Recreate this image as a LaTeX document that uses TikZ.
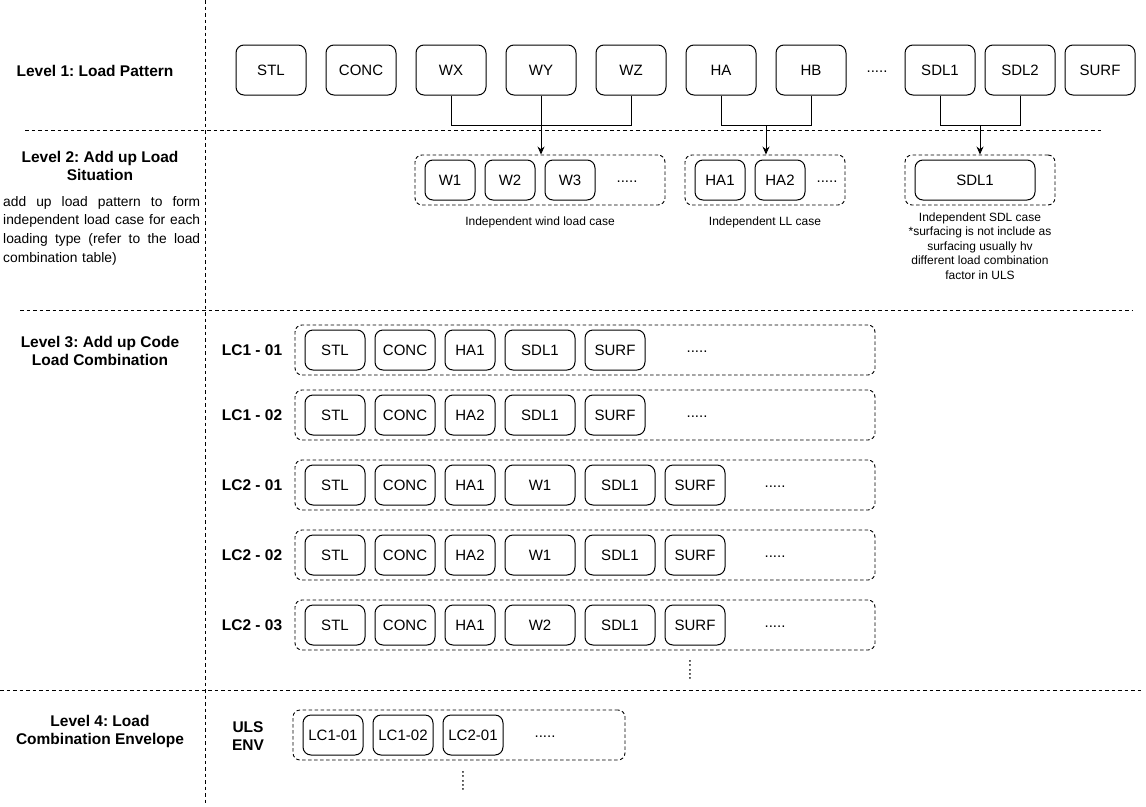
\documentclass[tikz,border=0pt]{standalone}
\usepackage{fontspec}
\setmainfont{Liberation Sans}
\usetikzlibrary{arrows.meta}
\frenchspacing
\newcommand{\jsp}{\ \hfill}
\tikzset{
  sep/.style={draw=black, line width=0.9pt, dash pattern=on 3.5pt off 3pt},
  grp/.style={draw=black, line width=0.9pt, dash pattern=on 3.5pt off 2.5pt, rounded corners=7pt, inner sep=0pt},
  lbox/.style={draw=black, line width=1pt, rounded corners=8pt, inner sep=0pt, font=\fontsize{15}{18}\selectfont},
  big/.style={lbox, minimum width=70pt, minimum height=50pt},
  sm/.style={lbox, minimum height=40pt},
  head/.style={font=\bfseries\fontsize{15.5}{18}\selectfont, align=center, inner sep=0pt},
  txt/.style={font=\fontsize{15}{18}\selectfont, inner sep=0pt},
  note/.style={font=\fontsize{12}{14.4}\selectfont, align=center, inner sep=0pt},
  conn/.style={draw=black, line width=1pt},
  arr/.style={conn, -{Stealth[length=8pt,width=7pt]}},
}
\begin{document}
\begin{tikzpicture}[x=1pt,y=-1pt]
\useasboundingbox (0,0) rectangle (1146,806);
% separators
\draw[sep] (205,0) -- (205,806);
\draw[sep] (25,130) -- (1103,130);
\draw[sep] (20,310) -- (1133,310);
\draw[sep] (0,690) -- (1143,690);

% left headings
\node[head] (h1) at (95,71) {Level 1: Load Pattern};
\node[head] (h2) at (100,166) {Level 2: Add up Load\\Situation};
\node[txt, font=\fontsize{13.8}{18.6}\selectfont, anchor=north west, text width=197pt, align=left] (p2) at (3,196)
  {\makebox[197pt][l]{add\jsp up\jsp load\jsp pattern\jsp to\jsp form}\\
   \makebox[197pt][l]{independent\jsp load\jsp case\jsp for\jsp each}\\
   \makebox[197pt][l]{loading\jsp type\jsp (refer\jsp to\jsp the\jsp load}\\
   combination table)};
\node[head] (h3) at (100,351) {Level 3: Add up Code\\Load Combination};
\node[head] (h4) at (100,731) {Level 4: Load\\Combination Envelope};

% level 1
\node[big] (STL) at (271,70) {STL};
\node[big] (CONC) at (361,70) {CONC};
\node[big] (WX) at (451,70) {WX};
\node[big] (WY) at (541,70) {WY};
\node[big] (WZ) at (631,70) {WZ};
\node[big] (HA) at (721,70) {HA};
\node[big] (HB) at (811,70) {HB};
\node[txt] (d1) at (877,72) {.....};
\node[big] (SDLa) at (940,70) {SDL1};
\node[big] (SDLb) at (1020,70) {SDL2};
\node[big] (SURF) at (1100,70) {SURF};

% level 2 groups
\node[grp, minimum width=250pt, minimum height=50pt] (gW) at (540,180) {};
\node[sm, minimum width=50pt] (W1) at (450,180) {W1};
\node[sm, minimum width=50pt] (W2) at (510,180) {W2};
\node[sm, minimum width=50pt] (W3) at (570,180) {W3};
\node[txt] (d2) at (627,182) {.....};
\node[note] (nW) at (540,222) {Independent wind load case};

\node[grp, minimum width=160pt, minimum height=50pt] (gH) at (765,180) {};
\node[sm, minimum width=50pt] (HA1) at (720,180) {HA1};
\node[sm, minimum width=50pt] (HA2) at (780,180) {HA2};
\node[txt] (d3) at (827,182) {.....};
\node[note] (nH) at (765,222) {Independent LL case};

\node[grp, minimum width=150pt, minimum height=50pt] (gS) at (980,180) {};
\node[sm, minimum width=120pt] (S1) at (975,180) {SDL1};
\node[note] (nS) at (980,246) {Independent SDL case\\*surfacing is not include as\\surfacing usually hv\\different load combination\\factor in ULS};

% connectors
\coordinate (jW) at (541,125);
\coordinate (jH) at (766,125);
\coordinate (jS) at (980,125);
\draw[conn] (WX.south) |- (jW);
\draw[conn] (WZ.south) |- (jW);
\draw[arr] (WY.south) -- (WY.south |- gW.north);
\draw[conn] (HA.south) |- (jH);
\draw[conn] (HB.south) |- (jH);
\draw[arr] (jH) -- (jH |- gH.north);
\draw[conn] (SDLa.south) |- (jS);
\draw[conn] (SDLb.south) |- (jS);
\draw[arr] (jS) -- (jS |- gS.north);

% level 3
\foreach \r/\y/\lab/\ha/\w in {a/350/LC1 - 01/HA1/, b/415/LC1 - 02/HA2/}{
  \node[head] (L\r) at (252,\y) {\lab};
  \node[grp, minimum width=580pt, minimum height=50pt] (G\r) at (585,\y) {};
  \node[sm, minimum width=60pt] (\r1) at (335,\y) {STL};
  \node[sm, minimum width=60pt] (\r2) at (405,\y) {CONC};
  \node[sm, minimum width=50pt] (\r3) at (470,\y) {\ha};
  \node[sm, minimum width=70pt] (\r4) at (540,\y) {SDL1};
  \node[sm, minimum width=60pt] (\r5) at (615,\y) {SURF};
  \node[txt] (\r6) at (697,\y+2) {.....};
}
\foreach \r/\y/\lab/\ha/\w in {c/485/LC2 - 01/HA1/W1, d/555/LC2 - 02/HA2/W1, e/625/LC2 - 03/HA1/W2}{
  \node[head] (L\r) at (252,\y) {\lab};
  \node[grp, minimum width=580pt, minimum height=50pt] (G\r) at (585,\y) {};
  \node[sm, minimum width=60pt] (\r1) at (335,\y) {STL};
  \node[sm, minimum width=60pt] (\r2) at (405,\y) {CONC};
  \node[sm, minimum width=50pt] (\r3) at (470,\y) {\ha};
  \node[sm, minimum width=70pt] (\r4) at (540,\y) {\w};
  \node[sm, minimum width=70pt] (\r5) at (620,\y) {SDL1};
  \node[sm, minimum width=60pt] (\r6) at (695,\y) {SURF};
  \node[txt] (\r7) at (775,\y+2) {.....};
}
\node[txt, rotate=90] (v3) at (690,670) {.....};

% level 4
\node[head] (uls) at (248,736) {ULS\\ENV};
\node[grp, minimum width=332pt, minimum height=50pt] (G4) at (459,735) {};
\node[sm, minimum width=60pt] (E1) at (333,735) {LC1-01};
\node[sm, minimum width=60pt] (E2) at (403,735) {LC1-02};
\node[sm, minimum width=60pt] (E3) at (473,735) {LC2-01};
\node[txt] (d4) at (545,737) {.....};
\node[txt, rotate=90] (v4) at (463,781) {.....};
\end{tikzpicture}
\end{document}
